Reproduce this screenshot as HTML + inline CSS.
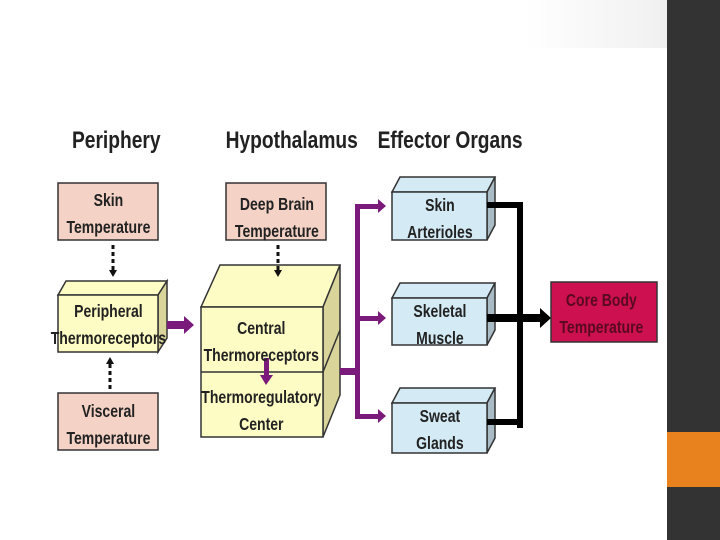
<!DOCTYPE html>
<html><head><style>body{margin:0;background:#fff}svg{display:block}</style></head><body>
<svg width="720" height="540" viewBox="0 0 720 540" xmlns="http://www.w3.org/2000/svg" font-family="Liberation Sans, sans-serif" font-weight="bold">
<defs><linearGradient id="g" x1="0" y1="0" x2="1" y2="0"><stop offset="0.5" stop-color="#fff"/><stop offset="1" stop-color="#f0f0f0"/></linearGradient></defs>
<rect width="720" height="540" fill="#fff"/>
<rect x="380" y="0" width="287" height="48" fill="url(#g)"/>
<rect x="667" y="0" width="53" height="540" fill="#333"/>
<rect x="667" y="432" width="53" height="55" fill="#e8821e"/>
<g font-size="24" fill="#222" transform="scale(0.8,1)">
<text x="90" y="148">Periphery</text>
<text x="282" y="148">Hypothalamus</text>
<text x="472" y="148">Effector Organs</text>
</g>
<g stroke="#333" stroke-width="1.5">
<rect x="58" y="183" width="100" height="57" fill="#f4d3c6"/>
<rect x="226" y="183" width="100" height="57" fill="#f4d3c6"/>
<rect x="58" y="393" width="100" height="57" fill="#f4d3c6"/>
<polygon points="58,295 66,281 167,281 158,295" fill="#fdfcc4"/>
<polygon points="158,295 167,281 167,338 158,352" fill="#d8d49a"/>
<rect x="58" y="295" width="100" height="57" fill="#fdfcc4"/>
<polygon points="201,307 220,265 340,265 323,307" fill="#fdfcc4"/>
<polygon points="323,307 340,265 340,395 323,437" fill="#d8d49a"/>
<line x1="323" y1="372" x2="340" y2="330"/>
<rect x="201" y="307" width="122" height="130" fill="#fdfcc4"/>
<line x1="201" y1="372" x2="323" y2="372"/>
<g fill="#d4ebf5">
<polygon points="392,192 400,177 495,177 487,192"/><polygon points="487,192 495,177 495,225 487,240" fill="#a9bcc6"/><rect x="392" y="192" width="95" height="48"/>
<polygon points="392,298 400,283 495,283 487,298"/><polygon points="487,298 495,283 495,330 487,345" fill="#a9bcc6"/><rect x="392" y="298" width="95" height="47"/>
<polygon points="392,403 400,388 495,388 487,403"/><polygon points="487,403 495,388 495,438 487,453" fill="#a9bcc6"/><rect x="392" y="403" width="95" height="50"/>
</g>
<rect x="551" y="282" width="106" height="60" fill="#cc1050"/>
</g>
<g stroke="#111" stroke-width="3" stroke-dasharray="4,3">
<line x1="113" y1="245" x2="113" y2="270"/><line x1="278" y1="245" x2="278" y2="270"/><line x1="110" y1="389" x2="110" y2="364"/>
</g>
<g fill="#111">
<polygon points="109,270 117,270 113,277"/><polygon points="274,270 282,270 278,277"/><polygon points="106,364 114,364 110,357"/>
</g>
<g fill="#7a1a7a">
<rect x="167" y="321" width="18" height="8"/><polygon points="184,316 194,325 184,334"/>
<rect x="264" y="358" width="5" height="18"/><polygon points="260,375 273,375 266,385"/>
<rect x="340" y="368" width="20" height="7"/>
<rect x="355" y="204" width="5" height="215"/>
<rect x="355" y="204" width="24" height="5"/><polygon points="378,199 386,206 378,213"/>
<rect x="355" y="316" width="24" height="5"/><polygon points="378,311 386,318 378,325"/>
<rect x="355" y="414" width="24" height="5"/><polygon points="378,409 386,416 378,423"/>
</g>
<g fill="#000">
<rect x="487" y="202" width="36" height="6"/>
<rect x="517" y="202" width="6" height="226"/>
<rect x="487" y="419" width="36" height="6"/>
<rect x="487" y="314" width="54" height="8"/><polygon points="540,308 551,318 540,328"/>
</g>
<g font-size="18" fill="#222" text-anchor="middle">
<g transform="scale(0.78,1)">
<text x="139" y="206">Skin</text><text x="139" y="233">Temperature</text>
<text x="355" y="210">Deep Brain</text><text x="355" y="237">Temperature</text>
<text x="139" y="317">Peripheral</text><text x="139" y="344">Thermoreceptors</text>
<text x="139" y="417">Visceral</text><text x="139" y="444">Temperature</text>
<text x="335" y="334">Central</text><text x="335" y="361">Thermoreceptors</text>
<text x="335" y="403">Thermoregulatory</text><text x="335" y="430">Center</text>
<text x="564" y="211">Skin</text><text x="564" y="238">Arterioles</text>
<text x="564" y="317">Skeletal</text><text x="564" y="344">Muscle</text>
<text x="564" y="422">Sweat</text><text x="564" y="449">Glands</text>
<text x="771" y="306" fill="#5a0a20">Core Body</text><text x="771" y="333" fill="#5a0a20">Temperature</text>
</g>
</g>
</svg>
</body></html>
